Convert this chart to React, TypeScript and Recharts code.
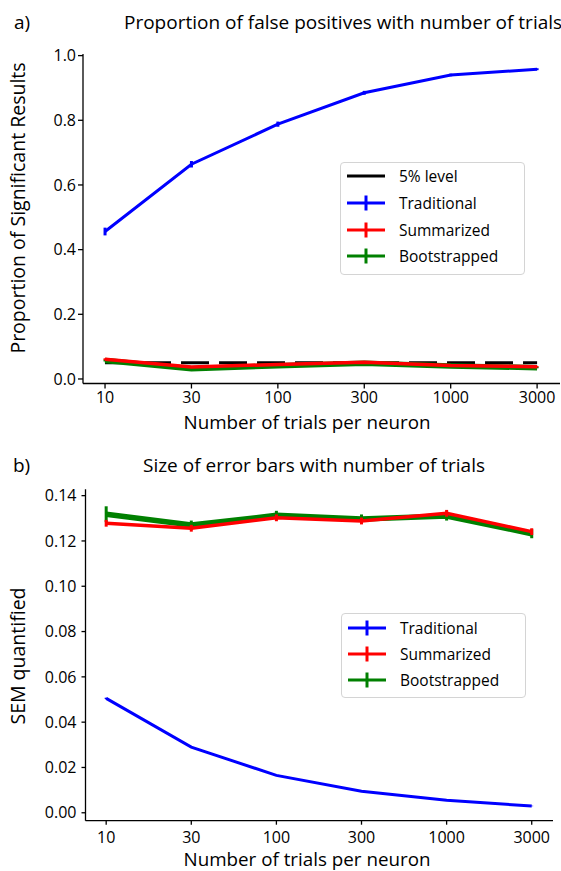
import { LineChart, Line, XAxis, YAxis, ErrorBar, Legend } from "recharts";

const trialLabels = ["10", "30", "100", "300", "1000", "3000"];

// a) proportion of significant results
const fpLevel = [0.05, 0.05, 0.05, 0.05, 0.05, 0.05];
const fpTraditional = [0.456, 0.664, 0.788, 0.885, 0.94, 0.958];
const fpTraditionalErr = [0.012, 0.01, 0.008, 0.006, 0.004, 0.003];
const fpSummarized = [0.061, 0.037, 0.045, 0.052, 0.042, 0.038];
const fpSummarizedErr = [0.003, 0.003, 0.002, 0.002, 0.002, 0.002];
const fpBootstrapped = [0.057, 0.032, 0.041, 0.049, 0.04, 0.035];
const fpBootstrappedErr = [0.003, 0.003, 0.002, 0.002, 0.002, 0.002];
const fpTicks = [0, 0.2, 0.4, 0.6, 0.8, 1.0];

// b) SEM
const semTraditional = [0.0505, 0.029, 0.0165, 0.0095, 0.0055, 0.003];
const semTraditionalErr = [0.0003, 0.0002, 0.0002, 0.0001, 0.0001, 0.0001];
const semSummarized = [0.1278, 0.1256, 0.1302, 0.1288, 0.1322, 0.1241];
const semSummarizedErr = [0.0015, 0.0015, 0.0015, 0.0015, 0.0015, 0.0015];
const semBootstrapped = [0.1318, 0.127, 0.1313, 0.1297, 0.131, 0.1232];
const semBootstrappedErr = [0.0035, 0.002, 0.002, 0.002, 0.002, 0.002];
const semTicks = [0, 0.02, 0.04, 0.06, 0.08, 0.1, 0.12, 0.14];

const xTicks = trialLabels.map((_, i) => i);

const fpData = trialLabels.map((_, i) => ({
  x: i,
  level: fpLevel[i],
  trad: fpTraditional[i], tradErr: fpTraditionalErr[i],
  summ: fpSummarized[i], summErr: fpSummarizedErr[i],
  boot: fpBootstrapped[i], bootErr: fpBootstrappedErr[i],
}));

const semData = trialLabels.map((_, i) => ({
  x: i,
  trad: semTraditional[i], tradErr: semTraditionalErr[i],
  summ: semSummarized[i], summErr: semSummarizedErr[i],
  boot: semBootstrapped[i], bootErr: semBootstrappedErr[i],
}));

const FONT = "'Open Sans', sans-serif";
const BLUE = "#0000ff";
const RED = "#ff0000";
const GREEN = "#008000";

type Item = { name: string; color: string; cross: boolean };

const legendA: Item[] = [
  { name: "5% level", color: "#000", cross: false },
  { name: "Traditional", color: BLUE, cross: true },
  { name: "Summarized", color: RED, cross: true },
  { name: "Bootstrapped", color: GREEN, cross: true },
];
const legendB: Item[] = legendA.slice(1);

function LegendBox({ items, row, pad }: { items: Item[]; row: number; pad: string }) {
  return (
    <div
      style={{
        border: "1px solid #d4d4d4",
        borderRadius: 4,
        background: "#fff",
        padding: pad,
        width: 183,
        fontFamily: FONT,
        fontSize: 15.5,
        color: "#000",
      }}
    >
      {items.map((it) => (
        <div key={it.name} style={{ height: row, display: "flex", alignItems: "center" }}>
          <svg width={58} height={26} style={{ flex: "none" }}>
            <line x1={6} x2={44} y1={13} y2={13} stroke={it.color} strokeWidth={3} />
            {it.cross && <line x1={25} x2={25} y1={5.5} y2={20.5} stroke={it.color} strokeWidth={3} />}
          </svg>
          <span style={{ lineHeight: "18px" }}>{it.name}</span>
        </div>
      ))}
    </div>
  );
}

const tickStyle = { fontFamily: FONT, fontSize: 16, fill: "#000" };
const axisLine = { stroke: "#000", strokeWidth: 1.3 };

function Text({ x, y, children, size = 19, anchor = "left", rotate = false }: any) {
  const style: any = {
    position: "absolute",
    top: y - 10,
    height: 20,
    lineHeight: "20px",
    fontFamily: FONT,
    fontSize: size,
    whiteSpace: "nowrap",
    color: "#000",
  };
  if (rotate) {
    style.left = x;
    style.transform = "translate(-50%, 0) rotate(-90deg)";
    style.transformOrigin = "50% 50%";
  } else if (anchor === "middle") {
    style.left = x;
    style.transform = "translateX(-50%)";
  } else {
    style.left = x;
  }
  return <div style={style}>{children}</div>;
}

export default function App() {
  return (
    <div style={{ position: "fixed", left: 0, top: 0, width: 561, height: 871, background: "#fff", overflow: "hidden" }}>
      <Text x={14} y={22}>a)</Text>
      <Text x={124} y={22}>Proportion of false positives with number of trials</Text>
      <Text x={18} y={208} size={19.5} rotate>Proportion of Significant Results</Text>
      <Text x={307} y={422} size={18.8} anchor="middle">Number of trials per neuron</Text>

      <div style={{ position: "absolute", left: 0, top: 0 }}>
        <LineChart width={561} height={440} data={fpData} margin={{ top: 54, right: 1, bottom: 26.5, left: 0 }}>
          <XAxis
            dataKey="x"
            type="number"
            domain={[-0.255, 5.265]}
            ticks={xTicks}
            tickFormatter={(v: number) => trialLabels[v]}
            height={30}
            tick={tickStyle}
            tickSize={5}
            tickMargin={3}
            axisLine={axisLine}
            tickLine={axisLine}
            allowDataOverflow
          />
          <YAxis
            type="number"
            domain={[-0.014, 1.005]}
            ticks={fpTicks}
            tickFormatter={(v: number) => v.toFixed(1)}
            width={83}
            tick={tickStyle}
            tickSize={5}
            tickMargin={2}
            axisLine={axisLine}
            tickLine={axisLine}
            allowDataOverflow
          />
          <Legend
            layout="vertical"
            align="center"
            verticalAlign="middle"
            wrapperStyle={{ position: "absolute", left: 340, top: 162, width: 185, height: 110 }}
            content={() => <LegendBox items={legendA} row={26.7} pad="0 0 4px" />}
          />
          <Line dataKey="level" stroke="#000" strokeWidth={3} strokeDasharray="28 10" dot={false} isAnimationActive={false} />
          <Line dataKey="trad" stroke={BLUE} strokeWidth={3} dot={false} isAnimationActive={false}>
            <ErrorBar dataKey="tradErr" direction="y" width={0} stroke={BLUE} strokeWidth={3} />
          </Line>
          <Line dataKey="boot" stroke={GREEN} strokeWidth={5.5} dot={false} isAnimationActive={false}>
            <ErrorBar dataKey="bootErr" direction="y" width={0} stroke={GREEN} strokeWidth={3} />
          </Line>
          <Line dataKey="summ" stroke={RED} strokeWidth={3.5} dot={false} isAnimationActive={false}>
            <ErrorBar dataKey="summErr" direction="y" width={0} stroke={RED} strokeWidth={3} />
          </Line>
        </LineChart>
      </div>

      <Text x={13} y={465}>b)</Text>
      <Text x={143} y={465}>Size of error bars with number of trials</Text>
      <Text x={18} y={656} size={19.5} rotate>SEM quantified</Text>
      <Text x={307} y={859} size={18.8} anchor="middle">Number of trials per neuron</Text>

      <div style={{ position: "absolute", left: 0, top: 440 }}>
        <LineChart width={561} height={431} data={semData} margin={{ top: 49.3, right: 8, bottom: 20.3, left: 0 }}>
          <XAxis
            dataKey="x"
            type="number"
            domain={[-0.243, 5.25]}
            ticks={xTicks}
            tickFormatter={(v: number) => trialLabels[v]}
            height={30}
            tick={tickStyle}
            tickSize={4}
            tickMargin={7}
            axisLine={axisLine}
            tickLine={axisLine}
            allowDataOverflow
          />
          <YAxis
            type="number"
            domain={[-0.0035, 0.1428]}
            ticks={semTicks}
            tickFormatter={(v: number) => v.toFixed(2)}
            width={85.5}
            tick={tickStyle}
            tickSize={4}
            tickMargin={5}
            axisLine={axisLine}
            tickLine={axisLine}
            allowDataOverflow
          />
          <Legend
            layout="vertical"
            align="center"
            verticalAlign="middle"
            wrapperStyle={{ position: "absolute", left: 341, top: 173, width: 185, height: 86 }}
            content={() => <LegendBox items={legendB} row={26} pad="1px 0 4px" />}
          />
          <Line dataKey="trad" stroke={BLUE} strokeWidth={3} dot={false} isAnimationActive={false}>
            <ErrorBar dataKey="tradErr" direction="y" width={0} stroke={BLUE} strokeWidth={3} />
          </Line>
          <Line dataKey="boot" stroke={GREEN} strokeWidth={5.5} dot={false} isAnimationActive={false}>
            <ErrorBar dataKey="bootErr" direction="y" width={0} stroke={GREEN} strokeWidth={3} />
          </Line>
          <Line dataKey="summ" stroke={RED} strokeWidth={3.5} dot={false} isAnimationActive={false}>
            <ErrorBar dataKey="summErr" direction="y" width={0} stroke={RED} strokeWidth={3} />
          </Line>
        </LineChart>
      </div>
    </div>
  );
}
